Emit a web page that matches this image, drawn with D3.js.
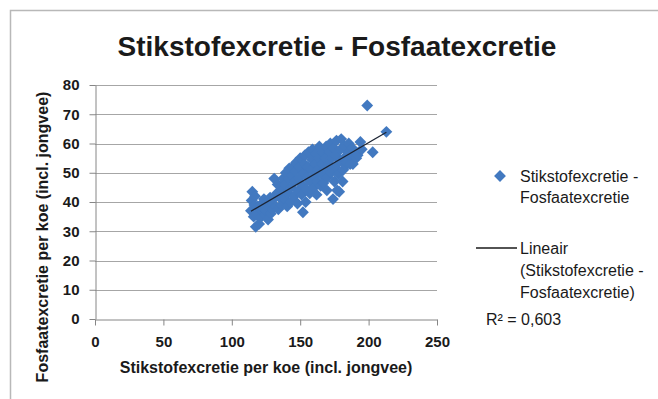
<!DOCTYPE html>
<html>
<head>
<meta charset="utf-8">
<script src="https://cdn.jsdelivr.net/npm/d3@7"></script>
<style>
  html, body { margin: 0; padding: 0; background: #fff; }
  svg { display: block; }
  text { font-family: "Liberation Sans", Arial, sans-serif; fill: #1a1a1a; }
</style>
</head>
<body>
<svg id="chart" width="658" height="399"></svg>
<script>
// Nitrogen excretion per cow (incl. young stock) vs phosphate excretion per cow
const nitrogen = [
  114, 114.5, 115, 116, 116.5, 117, 117.5, 118.5, 119, 120,
  120.5, 121, 122, 123, 123.5, 124.5, 125, 126, 126.5, 127,
  128, 128.5, 129.5, 130, 130.5, 131, 132, 133, 133.5, 134,
  135, 135.5, 136.5, 137, 137.5, 138.5, 139, 139.5, 140.5, 141,
  141.5, 142, 143, 143.5, 144, 144.5, 145.5, 146, 146.5, 147,
  148, 148.5, 149, 149.5, 150, 151, 151.5, 152, 152.5, 153,
  153.5, 154, 154.5, 155, 155.5, 156, 157, 157.5, 158, 158.5,
  159, 160, 160.5, 161, 161.5, 162, 162.5, 163, 163.5, 164,
  165, 165.5, 166, 166.5, 167, 168, 168.5, 169, 169.5, 170,
  171, 171.5, 172, 172.5, 173, 174, 174.5, 175, 175.5, 176,
  176.5, 177, 178, 178.5, 179, 179.5, 180, 181, 181.5, 182,
  182.5, 183.5, 184, 185, 185.5, 186.5, 187, 188, 188.5, 190,
  191, 192, 194, 195, 199, 203, 213
];
const phosphate = [
  37, 40.5, 43.5, 35, 39, 42, 31.5, 36.5, 38.5, 32.5,
  34.5, 39, 37, 38, 41, 35.5, 37, 40, 34, 38,
  41.5, 36, 39, 37.5, 41, 48, 38.5, 43, 46, 37.5,
  41.5, 45.5, 39, 44, 48, 41, 46, 50, 38.5, 43,
  48, 51.5, 40, 45, 49, 52, 42, 47, 50.5, 53.5,
  39.5, 44, 48, 52, 55, 42.5, 46, 36.5, 50, 53,
  56, 40, 44.5, 48.5, 52, 57, 43, 47, 51, 54.5,
  58, 45, 49, 53, 56.5, 42.5, 47, 51, 55, 59,
  45.5, 49.5, 53, 57, 46.5, 51, 55, 59, 44, 48.5,
  53, 57, 60, 50, 55, 41, 58.5, 47, 52, 56,
  61, 44, 49.5, 43.5, 54, 58, 61.5, 47, 51, 55,
  59, 52.5, 53.5, 57, 60, 53, 55.5, 58.5, 53, 57,
  55, 56, 60.5, 58, 73, 57, 64
];
const xTicks = [0, 50, 100, 150, 200, 250];
const yTicks = [0, 10, 20, 30, 40, 50, 60, 70, 80];
const titleText = "Stikstofexcretie - Fosfaatexcretie";
const xTitle = "Stikstofexcretie per koe (incl. jongvee)";
const yTitle = "Fosfaatexcretie per koe (incl. jongvee)";
const seriesName = ["Stikstofexcretie -", "Fosfaatexcretie"];
const trendName = ["Lineair", "(Stikstofexcretie -", "Fosfaatexcretie)"];
const rSquaredLabel = "R\u00B2 = 0,603";

const points = nitrogen.map((n, i) => ({ x: n, y: phosphate[i] }));

const svg = d3.select("#chart");
const markerColor = "#4279c0";

// outer chart frame (runs past the right and bottom edges)
svg.append("rect")
  .attr("x", 10.5).attr("y", 10.5)
  .attr("width", 720).attr("height", 460)
  .attr("fill", "#fff")
  .attr("stroke", "#b8b8b8").attr("stroke-width", 1.5);

const plot = { left: 95, right: 437, top: 85, bottom: 319 };
const x = d3.scaleLinear().domain([0, 250]).range([plot.left, plot.right]);
const y = d3.scaleLinear().domain([0, 80]).range([plot.bottom, plot.top]);

// horizontal gridlines
svg.append("g")
  .selectAll("line")
  .data(yTicks.filter(v => v > 0))
  .join("line")
  .attr("x1", plot.left).attr("x2", plot.right)
  .attr("y1", d => Math.round(y(d)) + 0.5).attr("y2", d => Math.round(y(d)) + 0.5)
  .attr("stroke", "#a6a6a6").attr("stroke-width", 1);

// axes
const xAxis = svg.append("g")
  .attr("transform", `translate(0,${plot.bottom + 0.5})`)
  .call(d3.axisBottom(x).tickValues(xTicks).tickSize(6).tickPadding(11).tickSizeOuter(0));
const yAxis = svg.append("g")
  .attr("transform", `translate(${plot.left + 0.5},0)`)
  .call(d3.axisLeft(y).tickValues(yTicks).tickSize(6).tickPadding(10).tickSizeOuter(0));

[xAxis, yAxis].forEach(g => {
  g.select(".domain").attr("stroke", "#868686").attr("stroke-width", 1);
  g.selectAll(".tick line").attr("stroke", "#868686");
  g.selectAll(".tick text")
    .attr("fill", "#1a1a1a")
    .style("font-family", "'Liberation Sans', Arial, sans-serif")
    .style("font-size", "15px")
    .style("font-weight", "bold");
});

// scatter markers (diamonds)
const diamond = d3.symbol(d3.symbolSquare, 70);
svg.append("g")
  .selectAll("path")
  .data(points)
  .join("path")
  .attr("d", diamond)
  .attr("transform", d => `translate(${x(d.x)},${y(d.y)}) rotate(45)`)
  .attr("fill", markerColor);

// least-squares linear trendline over the data range
const mx = d3.mean(points, d => d.x);
const my = d3.mean(points, d => d.y);
const sxy = d3.sum(points, d => (d.x - mx) * (d.y - my));
const sxx = d3.sum(points, d => (d.x - mx) ** 2);
const slope = sxy / sxx;
const intercept = my - slope * mx;
const [xMin, xMax] = d3.extent(points, d => d.x);
svg.append("line")
  .attr("x1", x(xMin)).attr("y1", y(intercept + slope * xMin))
  .attr("x2", x(xMax)).attr("y2", y(intercept + slope * xMax))
  .attr("stroke", "#1c2433").attr("stroke-width", 1.3);

// title
svg.append("text")
  .attr("x", 337).attr("y", 56)
  .attr("text-anchor", "middle")
  .style("font-size", "28px").style("font-weight", "bold")
  .text(titleText);

// axis titles
svg.append("text")
  .attr("x", 266).attr("y", 373)
  .attr("text-anchor", "middle")
  .style("font-size", "16px").style("font-weight", "bold")
  .text(xTitle);
svg.append("text")
  .attr("transform", "translate(48,237) rotate(-90)")
  .attr("text-anchor", "middle")
  .style("font-size", "16px").style("font-weight", "bold")
  .text(yTitle);

// legend
const legend = svg.append("g");
legend.append("path")
  .attr("d", diamond)
  .attr("transform", "translate(500,176) rotate(45)")
  .attr("fill", markerColor);
seriesName.forEach((t, i) => {
  legend.append("text")
    .attr("x", 520).attr("y", 181.5 + i * 21.5)
    .style("font-size", "16px")
    .text(t);
});
legend.append("line")
  .attr("x1", 476).attr("x2", 517)
  .attr("y1", 248).attr("y2", 248)
  .attr("stroke", "#1a1a1a").attr("stroke-width", 1.3);
trendName.forEach((t, i) => {
  legend.append("text")
    .attr("x", 520).attr("y", 253.5 + i * 22)
    .style("font-size", "16px")
    .text(t);
});
legend.append("text")
  .attr("x", 486).attr("y", 325)
  .style("font-size", "16px")
  .text(rSquaredLabel);
</script>
</body>
</html>
